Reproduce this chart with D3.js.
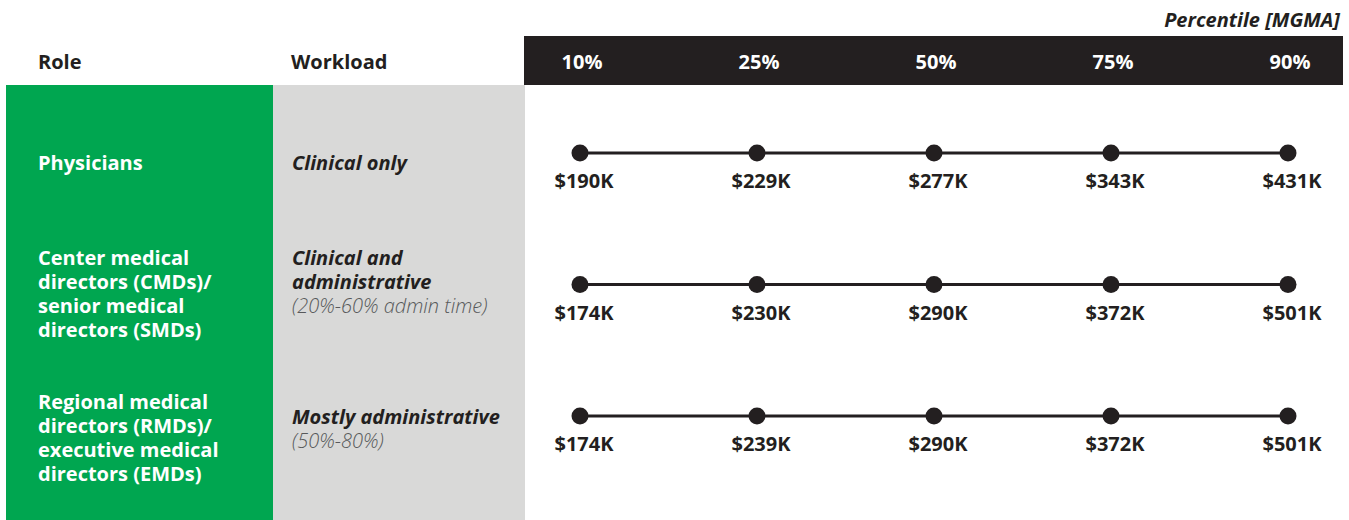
<!DOCTYPE html>
<html>
<head>
<meta charset="utf-8">
<script src="https://cdn.jsdelivr.net/npm/d3@7"></script>
<style>
  body { margin: 0; background: #fff; }
  svg { display: block; font-family: "Open Sans", sans-serif; }
</style>
</head>
<body>
<div id="chart-container"></div>
<script>
// Configuration
const width = 1349;
const height = 520;

// --- Data ---
const percentiles = ["10%", "25%", "50%", "75%", "90%"];
const roles = [
    ["Physicians"],
    ["Center medical", "directors (CMDs)/", "senior medical", "directors (SMDs)"],
    ["Regional medical", "directors (RMDs)/", "executive medical", "directors (EMDs)"]
];
const workloads = [
    ["Clinical only"],
    ["Clinical and", "administrative"],
    ["Mostly administrative"]
];
const workloadNotes = [
    [],
    ["(20%-60% admin time)"],
    ["(50%-80%)"]
];
const salaries = [
    [190, 229, 277, 343, 431],
    [174, 230, 290, 372, 501],
    [174, 239, 290, 372, 501]
];

// --- Layout (not data) ---
const colors = { green: "#00a650", grey: "#d9d9d8", dark: "#231f20", note: "#58595b" };
const fs = 20;
const lineH = 24;
const roleTop = [163, 258, 402];   // first text line centre per row
const workTop = [163, 258, 417];

const svg = d3.select("#chart-container")
    .append("svg")
    .attr("width", width)
    .attr("height", height);

const rowIdx = d3.range(salaries.length);
const x = d3.scalePoint().domain(percentiles).range([580, 1288]);
const y = d3.scalePoint().domain(rowIdx).range([153, 416]);

// Column backgrounds
svg.append("rect").attr("x", 6).attr("y", 85).attr("width", 267).attr("height", height - 85).attr("fill", colors.green);
svg.append("rect").attr("x", 273).attr("y", 85).attr("width", 252).attr("height", height - 85).attr("fill", colors.grey);
svg.append("rect").attr("x", 524).attr("y", 36).attr("width", 819).attr("height", 49).attr("fill", colors.dark);

// Headers
svg.append("text")
    .attr("x", 1340).attr("y", 27)
    .attr("text-anchor", "end")
    .attr("font-size", fs).attr("font-weight", 700).attr("font-style", "italic")
    .attr("fill", colors.dark)
    .text("Percentile [MGMA]");

svg.append("text").attr("x", 38).attr("y", 69)
    .attr("font-size", fs).attr("font-weight", 700).attr("fill", colors.dark).text("Role");
svg.append("text").attr("x", 291).attr("y", 69)
    .attr("font-size", fs).attr("font-weight", 700).attr("fill", colors.dark).text("Workload");

svg.append("g")
    .selectAll("text")
    .data(percentiles)
    .join("text")
    .attr("x", d => x(d) + 2)
    .attr("y", 69)
    .attr("text-anchor", "middle")
    .attr("font-size", fs).attr("font-weight", 700)
    .attr("fill", "#fff")
    .text(d => d);

// Role labels
const roleG = svg.append("g").selectAll("text")
    .data(rowIdx)
    .join("text")
    .attr("font-size", fs).attr("font-weight", 700).attr("fill", "#fff");
roleG.selectAll("tspan")
    .data(i => roles[i].map((t, k) => ({ t, k, i })))
    .join("tspan")
    .attr("x", 38)
    .attr("y", d => roleTop[d.i] + d.k * lineH)
    .attr("dy", "0.35em")
    .text(d => d.t);

// Workload labels
const workG = svg.append("g").selectAll("text")
    .data(rowIdx)
    .join("text")
    .attr("font-size", fs).attr("fill", colors.dark);
workG.selectAll("tspan")
    .data(i => workloads[i].map((t, k) => ({ t, k, i, note: false }))
        .concat(workloadNotes[i].map((t, k) => ({ t, k: k + workloads[i].length, i, note: true }))))
    .join("tspan")
    .attr("x", 292)
    .attr("y", d => workTop[d.i] + d.k * lineH)
    .attr("dy", "0.35em")
    .attr("font-weight", d => d.note ? 300 : 700)
    .attr("font-style", "italic")
    .attr("fill", d => d.note ? colors.note : colors.dark)
    .text(d => d.t);

// Percentile lines and dots
const rows = svg.append("g").selectAll("g")
    .data(rowIdx)
    .join("g")
    .attr("transform", i => `translate(0,${y(i)})`);

rows.append("line")
    .attr("x1", x(percentiles[0]))
    .attr("x2", x(percentiles[percentiles.length - 1]))
    .attr("stroke", colors.dark)
    .attr("stroke-width", 3);

rows.selectAll("circle")
    .data(i => salaries[i].map((v, k) => ({ v, p: percentiles[k] })))
    .join("circle")
    .attr("cx", d => x(d.p))
    .attr("r", 8.5)
    .attr("fill", colors.dark);

rows.selectAll("text")
    .data(i => salaries[i].map((v, k) => ({ v, p: percentiles[k] })))
    .join("text")
    .attr("x", d => x(d.p) + 4)
    .attr("y", 35)
    .attr("text-anchor", "middle")
    .attr("font-size", fs).attr("font-weight", 700)
    .attr("fill", colors.dark)
    .text(d => `$${d.v}K`);
</script>
</body>
</html>
